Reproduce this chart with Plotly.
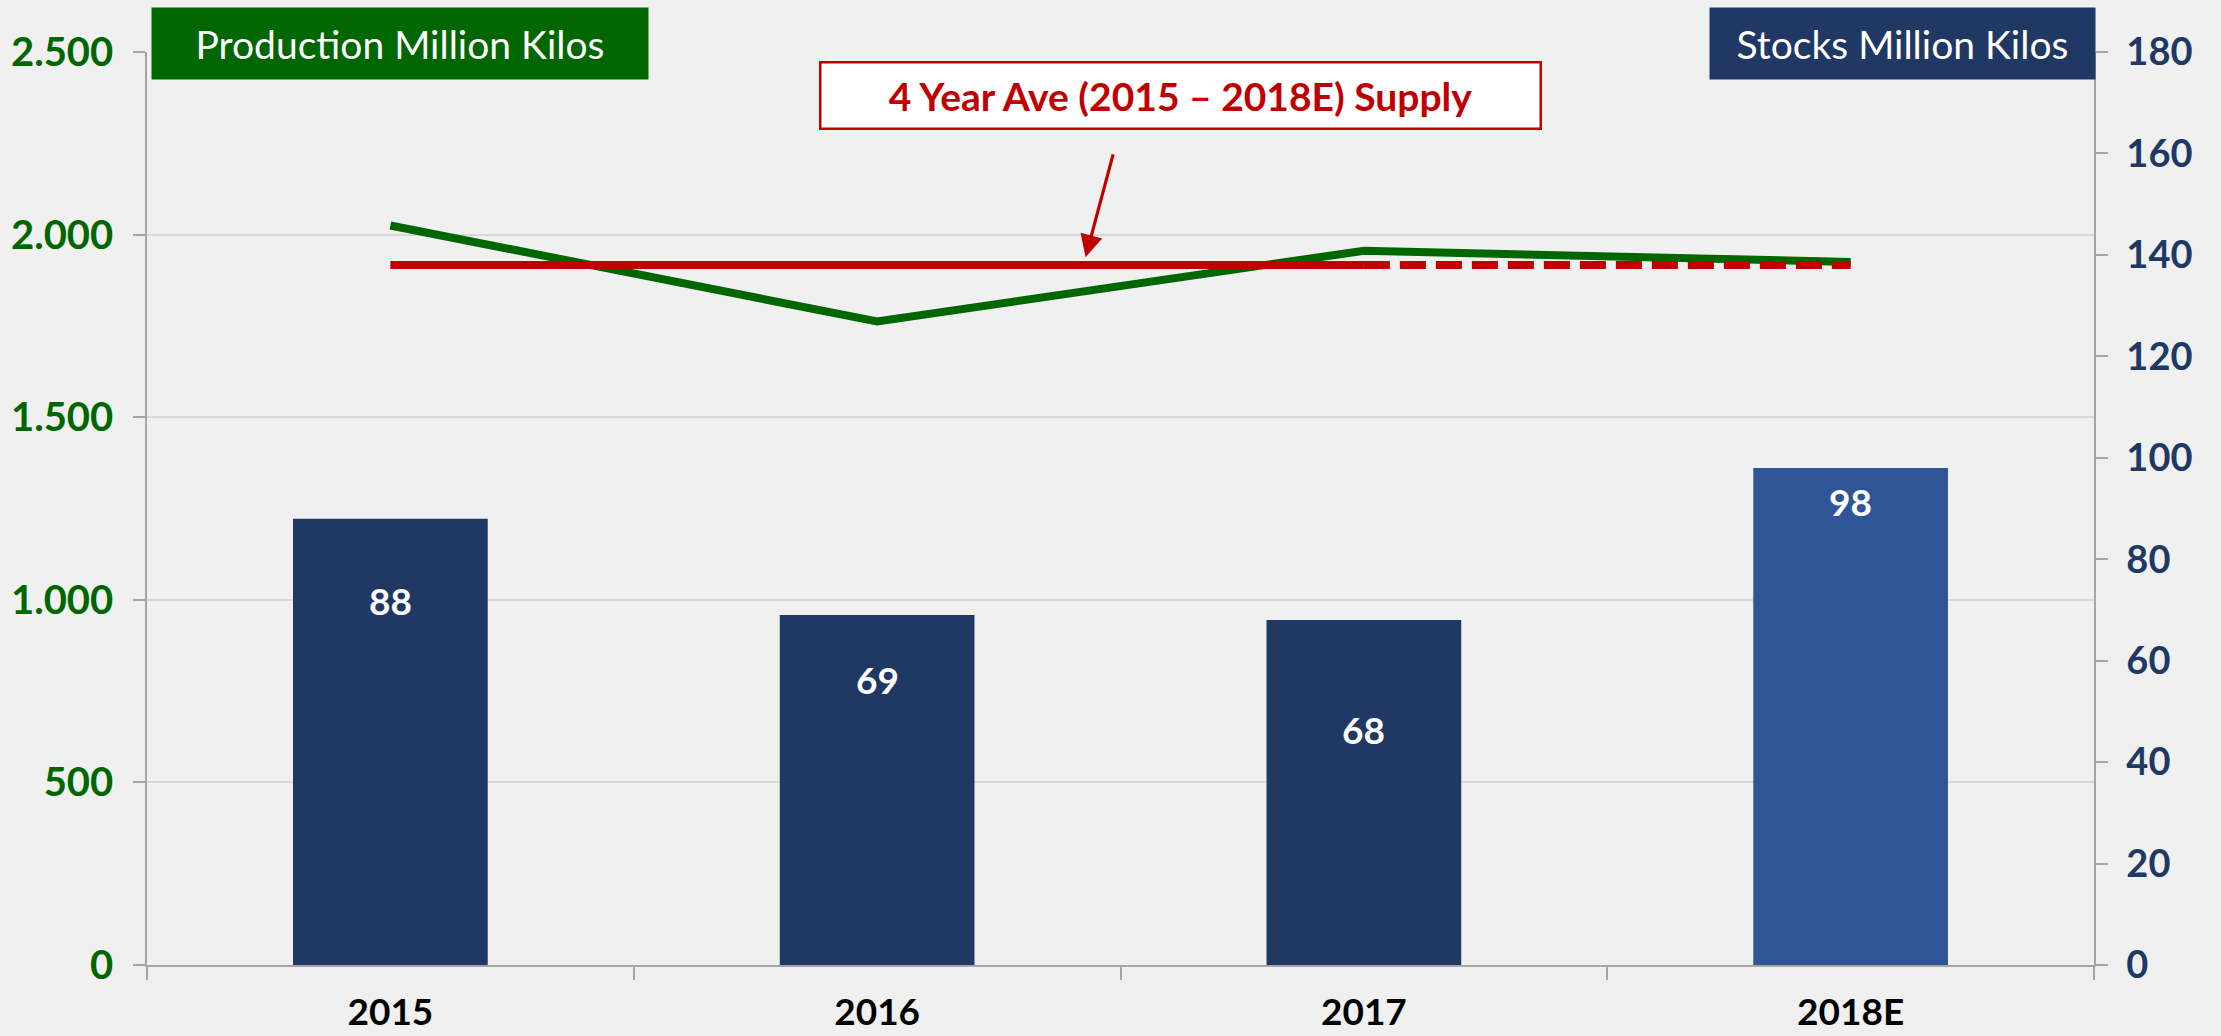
import plotly.graph_objects as go

# ---- data ----
years = ["2015", "2016", "2017", "2018E"]
production = [2025, 1762, 1956, 1925]          # million kilos (left axis)
stocks = [88, 69, 68, 98]                       # million kilos (right axis)
stock_labels = ["88", "69", "68", "98"]
supply_avg = sum(production) / len(production)  # 4 year average supply

# ---- styles ----
FONT = "Lato"
GREEN = "#006600"
NAVY = "#203864"
BLUE18 = "#2F5597"
RED = "#C00000"
AXIS = "#a6a6a6"
GRID = "#d9d9d9"
BG = "#f0f0f0"
bar_colors = [NAVY, NAVY, NAVY, BLUE18]
label_drop_px = [82, 64, 109, 34]

fig = go.Figure()

fig.add_trace(go.Bar(
    x=years, y=stocks, yaxis="y2", width=0.4,
    marker=dict(color=bar_colors, line=dict(width=0)),
    showlegend=False, hoverinfo="x+y",
))

fig.add_trace(go.Scatter(
    x=years, y=production, mode="lines",
    line=dict(color=GREEN, width=8), showlegend=False,
))

fig.add_trace(go.Scatter(
    x=years[:3], y=[supply_avg] * 3, mode="lines",
    line=dict(color=RED, width=8), showlegend=False,
))
fig.add_trace(go.Scatter(
    x=years[2:], y=[supply_avg] * 2, mode="lines",
    line=dict(color=RED, width=8, dash="26px,10px"), showlegend=False,
))

annotations = []
for i, (v, lab, drop) in enumerate(zip(stocks, stock_labels, label_drop_px)):
    annotations.append(dict(
        x=i, y=v, xref="x", yref="y2", text=lab, showarrow=False,
        yshift=-drop, yanchor="middle",
        font=dict(family=FONT, size=37, color="white", weight="bold"),
    ))

# legend-like boxes
annotations.append(dict(
    xref="paper", yref="paper", x=0.002, y=1.049, xanchor="left", yanchor="top",
    text="Production Million Kilos", showarrow=False,
    bgcolor=GREEN, width=494, height=69, borderpad=1, align="center",
    font=dict(family=FONT, size=39, color="white"),
))
annotations.append(dict(
    xref="paper", yref="paper", x=1.001, y=1.049, xanchor="right", yanchor="top",
    text="Stocks Million Kilos", showarrow=False,
    bgcolor=NAVY, width=383, height=69, borderpad=1, align="center",
    font=dict(family=FONT, size=39, color="white"),
))

# average supply callout
annotations.append(dict(
    xref="paper", yref="paper", x=0.5306, y=0.952, xanchor="center", yanchor="middle",
    text="4 Year Ave (2015 \u2013 2018E) Supply", showarrow=False,
    bgcolor="white", bordercolor=RED, borderwidth=2.5, borderpad=1,
    width=716, height=62, align="center",
    font=dict(family=FONT, size=39, color=RED, weight="bold"),
))
annotations.append(dict(
    x=1.424, y=supply_avg, xref="x", yref="y", text="", showarrow=True,
    ax=30, ay=-112, axref="pixel", ayref="pixel",
    arrowhead=2, arrowsize=1.4, arrowwidth=3.2, arrowcolor=RED, standoff=8,
))

fig.update_layout(
    width=2221, height=1036,
    margin=dict(l=147, r=127, t=52, b=71, autoexpand=False),
    paper_bgcolor=BG, plot_bgcolor=BG,
    separators=",.",
    annotations=annotations,
    xaxis=dict(
        type="category", categoryorder="array", categoryarray=years,
        range=[-0.5, 3.5], autorange=False, automargin=False,
        ticks="outside", tickson="boundaries", ticklen=13, tickwidth=1.5, tickcolor=AXIS,
        showline=True, linecolor=AXIS, linewidth=1.5, showgrid=False,
        tickfont=dict(family=FONT, size=37, color="black", weight="bold"),
        tickangle=0, ticklabelstandoff=14,
    ),
    yaxis=dict(
        range=[0, 2500], dtick=500, tick0=0, separatethousands=True, tickformat=",d",
        automargin=False,
        showgrid=True, gridcolor=GRID, gridwidth=1.5, zeroline=False,
        ticks="outside", ticklen=12, tickwidth=1.5, tickcolor=AXIS,
        showline=True, linecolor=AXIS, linewidth=1.5,
        tickfont=dict(family=FONT, size=40, color=GREEN, weight="bold"),
        ticklabelstandoff=12,
    ),
    yaxis2=dict(
        range=[0, 180], dtick=20, tick0=0, overlaying="y", side="right",
        automargin=False,
        showgrid=False, zeroline=False,
        ticks="outside", ticklen=12, tickwidth=1.5, tickcolor=AXIS,
        showline=True, linecolor=AXIS, linewidth=1.5,
        tickfont=dict(family=FONT, size=38, color=NAVY, weight="bold"),
        ticklabelstandoff=11,
    ),
)

fig.write_html(
    "out.html",
    config={"displayModeBar": False},
    post_script="document.body.style.margin='0px';",
)
